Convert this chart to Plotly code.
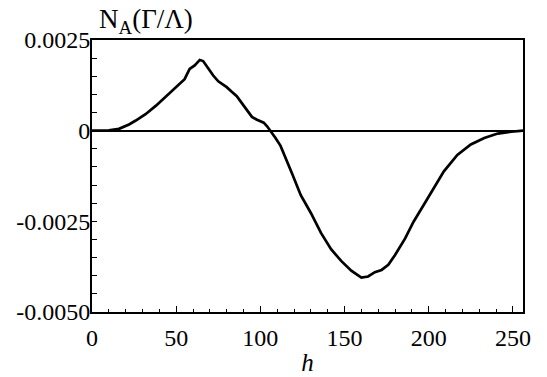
import plotly.graph_objects as go

# h values (x) and N_A values (units of 1e-3)
h = [0, 5, 10, 16, 22, 26, 32, 38, 44, 50, 55, 58, 61, 64, 66, 69, 72, 75, 80, 83,
     86, 89, 92, 95, 98, 102, 104, 106, 109, 112, 116, 119, 124, 130, 136, 142, 148,
     154, 160, 164, 168, 172, 176, 180, 186, 191, 197, 203, 209, 217, 225, 233, 241,
     249, 256]
na_milli = [0.0, 0.0, 0.01, 0.05, 0.17, 0.28, 0.46, 0.69, 0.94, 1.20, 1.42, 1.70,
            1.80, 1.95, 1.92, 1.72, 1.52, 1.36, 1.20, 1.07, 0.95, 0.76, 0.58, 0.38,
            0.30, 0.22, 0.12, 0.0, -0.20, -0.42, -0.85, -1.20, -1.78, -2.27, -2.82,
            -3.27, -3.59, -3.86, -4.05, -4.02, -3.90, -3.84, -3.70, -3.43, -2.97,
            -2.51, -2.05, -1.59, -1.12, -0.67, -0.38, -0.20, -0.08, -0.03, 0.0]
na = [v * 1e-3 for v in na_milli]

y_tickvals = [-0.005, -0.0025, 0, 0.0025]
y_ticktext = ["-0.0050", "-0.0025", "0", "0.0025"]
x_tickvals = [0, 50, 100, 150, 200, 250]
x_ticktext = ["0", "50", "100", "150", "200", "250"]

FONT = "Liberation Serif, Times New Roman, serif"

fig = go.Figure()
fig.add_trace(go.Scatter(x=h, y=na, mode="lines",
                         line=dict(color="black", width=2.7, shape="linear"),
                         showlegend=False, hoverinfo="skip"))

fig.update_layout(
    width=547, height=377,
    margin=dict(l=92, r=24, t=40, b=65),
    paper_bgcolor="white", plot_bgcolor="white",
    font=dict(family=FONT, size=24, color="black"),
    xaxis=dict(
        range=[0, 256], showgrid=False, zeroline=False, automargin=False,
        showline=True, linecolor="black", linewidth=2, mirror=True,
        ticks="inside", ticklen=6, tickwidth=1.2, tickcolor="black",
        tickvals=x_tickvals, ticktext=x_ticktext,
        minor=dict(ticks="inside", dtick=10, ticklen=3, tickwidth=1, tickcolor="black", showgrid=False),
        title=dict(text="<i>h</i>", font=dict(family=FONT, size=25), standoff=4),
        tickfont=dict(family=FONT, size=24),
        ticklabelstandoff=3,
    ),
    yaxis=dict(
        range=[-0.005, 0.0025], showgrid=False, automargin=False,
        zeroline=True, zerolinecolor="black", zerolinewidth=1.5,
        showline=True, linecolor="black", linewidth=2, mirror=True,
        ticks="inside", ticklen=5, tickwidth=1.2, tickcolor="black",
        tickvals=y_tickvals, ticktext=y_ticktext,
        minor=dict(ticks="inside", dtick=0.0005, tick0=0, ticklen=5, tickwidth=1, tickcolor="black", showgrid=False),
        tickfont=dict(family=FONT, size=24),
        ticklabelstandoff=-5,
    ),
    annotations=[dict(
        text="N<sub>A</sub>(Γ/Λ)", xref="paper", yref="paper",
        x=0.012, y=1, xanchor="left", yanchor="bottom", yshift=0,
        showarrow=False, font=dict(family=FONT, size=27, color="black"),
    )],
)

fig.write_html("out.html")
